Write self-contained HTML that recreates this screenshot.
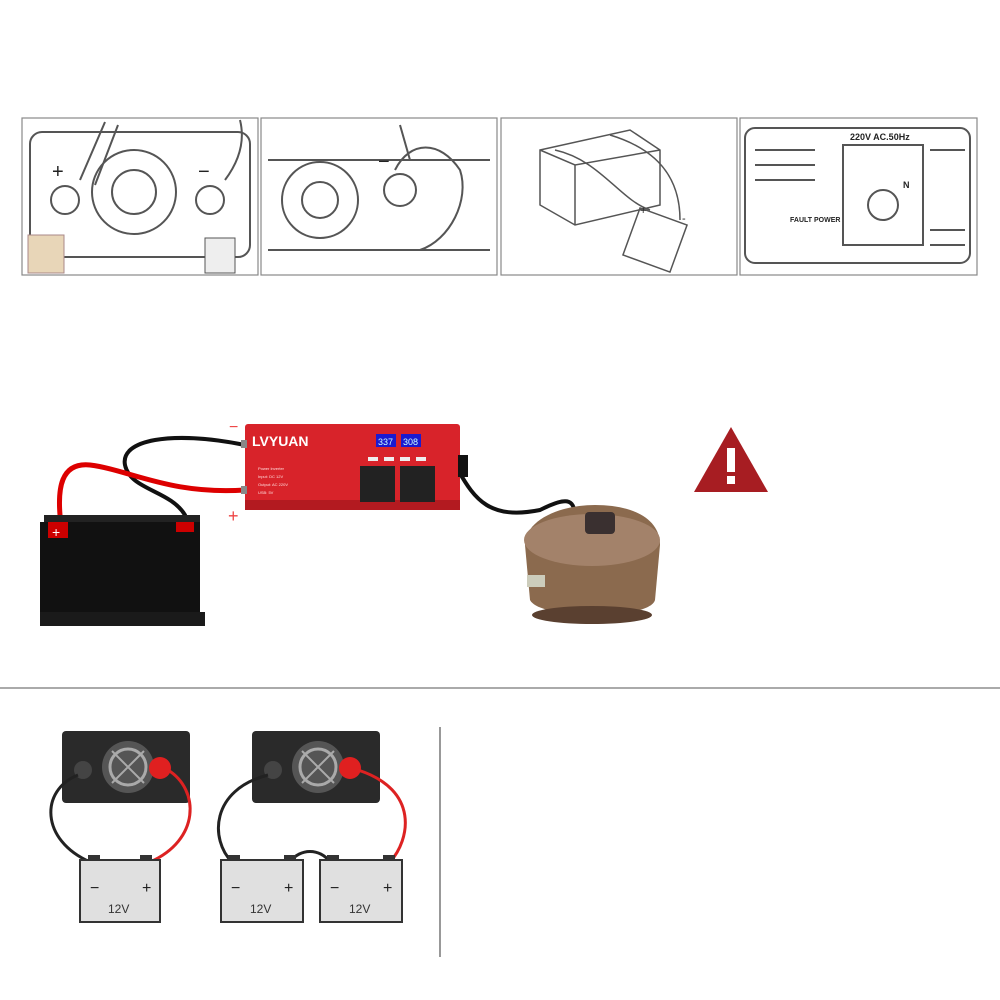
<!DOCTYPE html>
<html><head><meta charset="utf-8"><style>
html,body{margin:0;padding:0;background:#fff;}
svg{display:block;font-family:"Liberation Sans",sans-serif;}
</style></head><body>
<svg width="1000" height="1000" viewBox="0 0 1000 1000" xmlns="http://www.w3.org/2000/svg">
<rect width="1000" height="1000" fill="#fff"/>
<!-- top panels -->
<g fill="none" stroke="#888" stroke-width="1.2">
<rect x="22" y="118" width="236" height="157"/>
<rect x="261" y="118" width="236" height="157"/>
<rect x="501" y="118" width="236" height="157"/>
<rect x="740" y="118" width="237" height="157"/>
</g>
<!-- panel 1 -->
<g fill="none" stroke="#555" stroke-width="2">
<rect x="30" y="132" width="220" height="125" rx="12"/>
<circle cx="134" cy="192" r="42"/><circle cx="134" cy="192" r="22"/>
<circle cx="65" cy="200" r="14"/><circle cx="210" cy="200" r="14"/>
<path d="M80 180 L105 122 M95 185 L118 125"/>
<path d="M225 180 C240 160 245 140 240 120"/>
</g>
<text x="52" y="178" font-size="20" fill="#222">+</text>
<text x="198" y="178" font-size="20" fill="#222">−</text>
<rect x="28" y="235" width="36" height="38" fill="#e8d6b8" stroke="#a88" />
<rect x="205" y="238" width="30" height="35" fill="#eee" stroke="#555"/>
<!-- panel 2 -->
<g fill="none" stroke="#555" stroke-width="2">
<path d="M268 160 L490 160 M268 250 L490 250"/>
<circle cx="320" cy="200" r="38"/><circle cx="320" cy="200" r="18"/>
<circle cx="400" cy="190" r="16"/>
<path d="M395 170 C410 140 440 140 460 170 C470 200 450 240 420 250"/>
<path d="M400 125 L410 160"/>
</g>
<text x="378" y="168" font-size="20" fill="#222">−</text>
<!-- panel 3 -->
<g fill="none" stroke="#555" stroke-width="1.5">
<path d="M540 150 L630 130 L660 150 L660 205 L575 225 L540 205 Z M540 150 L575 165 L660 150 M575 165 L575 225"/>
<path d="M555 150 C600 160 620 200 650 210 M610 135 C660 150 680 180 680 220"/>
<rect x="630" y="215" width="50" height="50" transform="rotate(20 655 240)"/>
</g>
<text x="640" y="214" font-size="11" fill="#222">+</text><text x="682" y="222" font-size="11" fill="#222">-</text>
<!-- panel 4 -->
<g fill="none" stroke="#555" stroke-width="2">
<rect x="745" y="128" width="225" height="135" rx="10"/>
<rect x="843" y="145" width="80" height="100"/>
<circle cx="883" cy="205" r="15"/>
<path d="M755 150 h60 M755 165 h60 M755 180 h60 M930 150 h35 M930 230 h35 M930 245 h35"/>
</g>
<text x="850" y="140" font-size="9" font-weight="bold" fill="#222">220V AC.50Hz</text>
<text x="790" y="222" font-size="7" font-weight="bold" fill="#222">FAULT POWER</text>
<text x="903" y="188" font-size="9" font-weight="bold" fill="#222">N</text>
<!-- middle cables -->
<g fill="none" stroke-linecap="round">
<path d="M245 445 C170 430 120 440 125 465 C130 490 170 490 185 515" stroke="#111" stroke-width="4"/>
<path d="M245 490 C170 495 130 470 90 465 C60 462 58 490 60 515" stroke="#d00" stroke-width="5"/>
<path d="M458 470 C475 500 490 520 540 510 C570 495 575 500 575 520" stroke="#111" stroke-width="4"/>
</g>
<!-- battery -->
<rect x="44" y="515" width="156" height="12" fill="#222"/>
<rect x="40" y="522" width="160" height="100" fill="#111"/>
<rect x="40" y="612" width="165" height="14" fill="#1a1a1a"/>
<rect x="48" y="522" width="20" height="16" fill="#c00"/>
<text x="52" y="537" font-size="14" fill="#fff">+</text>
<rect x="176" y="522" width="18" height="10" fill="#c00"/>
<!-- inverter -->
<rect x="245" y="424" width="215" height="86" fill="#d8232a" rx="3"/>
<rect x="245" y="500" width="215" height="10" fill="#b31a20"/>
<text x="252" y="446" font-size="14" font-weight="bold" fill="#fff">LVYUAN</text>
<rect x="376" y="434" width="20" height="13" fill="#1a1ad0"/><rect x="401" y="434" width="20" height="13" fill="#1a1ad0"/>
<text x="378" y="445" font-size="9" fill="#cff">337</text><text x="403" y="445" font-size="9" fill="#cff">308</text>
<g fill="#eee"><rect x="368" y="457" width="10" height="4"/><rect x="384" y="457" width="10" height="4"/><rect x="400" y="457" width="10" height="4"/><rect x="416" y="457" width="10" height="4"/></g>
<rect x="360" y="466" width="35" height="36" fill="#222"/><rect x="400" y="466" width="35" height="36" fill="#222"/>
<g font-size="4" fill="#fdd"><text x="258" y="470">Power Inverter</text><text x="258" y="478">Input: DC 12V</text><text x="258" y="486">Output: AC 220V</text><text x="258" y="494">USB: 5V</text></g>
<rect x="241" y="440" width="6" height="8" fill="#888"/><rect x="241" y="486" width="6" height="8" fill="#888"/>
<text x="229" y="432" font-size="16" fill="#e44">−</text>
<text x="228" y="522" font-size="18" fill="#e44">+</text>
<rect x="458" y="455" width="10" height="22" fill="#111"/>
<!-- rice cooker -->
<path d="M525 545 C525 520 560 505 595 505 C635 505 660 520 660 545 L655 600 C650 620 540 620 530 600 Z" fill="#8b6a4e"/>
<ellipse cx="592" cy="540" rx="68" ry="26" fill="#a3826a"/>
<rect x="585" y="512" width="30" height="22" rx="4" fill="#3a3030"/>
<rect x="527" y="575" width="18" height="12" fill="#ccb"/>
<ellipse cx="592" cy="615" rx="60" ry="9" fill="#5a4030"/>
<!-- warning -->
<path d="M731 427 L768 492 L694 492 Z" fill="#a71d22"/>
<rect x="727" y="448" width="8" height="24" fill="#fff"/><rect x="727" y="476" width="8" height="8" fill="#fff"/>
<!-- separators -->
<line x1="0" y1="688" x2="1000" y2="688" stroke="#777" stroke-width="1.2"/>
<line x1="440" y1="727" x2="440" y2="957" stroke="#555" stroke-width="1.2"/>
<!-- bottom diagrams -->
<g id="inv1">
<rect x="62" y="731" width="128" height="72" rx="4" fill="#2a2a2a"/>
<circle cx="128" cy="767" r="26" fill="#555"/><circle cx="128" cy="767" r="18" fill="none" stroke="#aaa" stroke-width="3"/>
<path d="M112 751 L144 783 M144 751 L112 783" stroke="#aaa" stroke-width="2"/>
<circle cx="83" cy="770" r="9" fill="#444"/>
<circle cx="160" cy="768" r="11" fill="#e02020"/>
</g>
<g fill="none" stroke-width="3">
<path d="M78 775 C40 790 40 840 90 862" stroke="#222"/>
<path d="M168 770 C200 790 200 840 150 862" stroke="#d22"/>
</g>
<rect x="80" y="860" width="80" height="62" fill="#e0e0e0" stroke="#333" stroke-width="2"/>
<rect x="88" y="855" width="12" height="6" fill="#333"/><rect x="140" y="855" width="12" height="6" fill="#333"/>
<text x="90" y="893" font-size="16" fill="#222">−</text><text x="142" y="893" font-size="16" fill="#222">+</text>
<text x="108" y="913" font-size="12" fill="#333">12V</text>
<use href="#inv1" x="190"/>
<g fill="none" stroke-width="3">
<path d="M268 775 C210 790 210 840 232 862" stroke="#222"/>
<path d="M358 770 C420 790 410 840 390 862" stroke="#d22"/>
<path d="M290 862 C300 848 320 848 330 862" stroke="#222"/>
</g>
<rect x="221" y="860" width="82" height="62" fill="#e0e0e0" stroke="#333" stroke-width="2"/>
<rect x="228" y="855" width="12" height="6" fill="#333"/><rect x="284" y="855" width="12" height="6" fill="#333"/>
<text x="231" y="893" font-size="16" fill="#222">−</text><text x="284" y="893" font-size="16" fill="#222">+</text>
<text x="250" y="913" font-size="12" fill="#333">12V</text>
<rect x="320" y="860" width="82" height="62" fill="#e0e0e0" stroke="#333" stroke-width="2"/>
<rect x="327" y="855" width="12" height="6" fill="#333"/><rect x="383" y="855" width="12" height="6" fill="#333"/>
<text x="330" y="893" font-size="16" fill="#222">−</text><text x="383" y="893" font-size="16" fill="#222">+</text>
<text x="349" y="913" font-size="12" fill="#333">12V</text>
</svg>
</body></html>
